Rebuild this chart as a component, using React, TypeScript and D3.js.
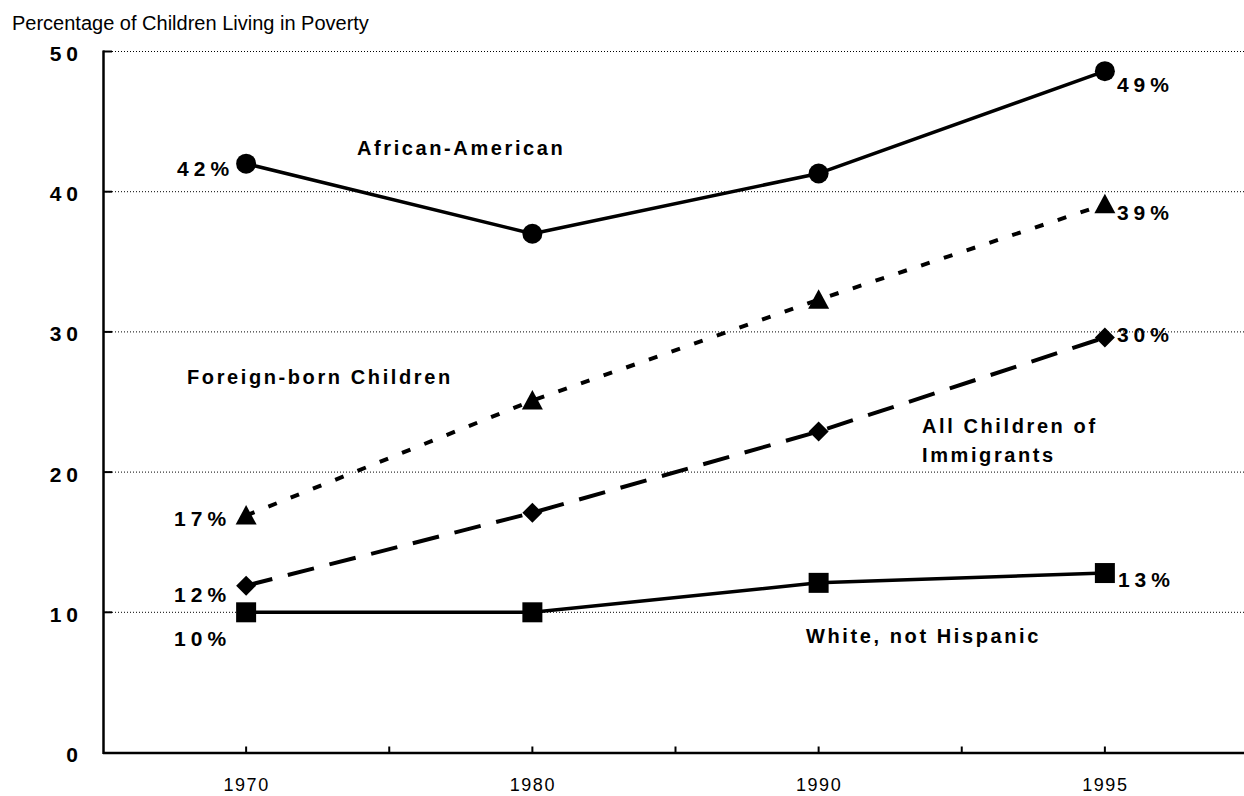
import React from "react";
import * as d3 from "d3";

// Census years on the category axis
const years = ["1970", "1980", "1990", "1995"];

// Percentage of children living in poverty, by group
const africanAmerican = [42, 37, 41.3, 48.6];
const foreignBorn = [16.9, 25.1, 32.3, 39.1];
const allChildrenOfImmigrants = [11.9, 17.1, 22.9, 29.6];
const whiteNotHispanic = [10, 10, 12.1, 12.8];

// Value-axis ticks
const yTicks = [0, 10, 20, 30, 40, 50];

const W = 1244;
const H = 796;
const LEFT = 103;
const RIGHT = 1248;
const TOP = 51.5;
const BOTTOM = 752.5;

type Marker = "circle" | "triangle" | "diamond" | "square";

interface SeriesDef {
  name: string;
  values: number[];
  marker: Marker;
  dash: string | null;
  // placement of the first/last value labels relative to the point
  first: { dx: number; dy: number };
  last: { dx: number; dy: number };
}

const series: SeriesDef[] = [
  { name: "African-American", values: africanAmerican, marker: "circle", dash: null,
    first: { dx: -17, dy: 12 }, last: { dx: 12, dy: 21 } },
  { name: "Foreign-born Children", values: foreignBorn, marker: "triangle", dash: "9,15",
    first: { dx: -20, dy: 10.5 }, last: { dx: 12, dy: 16 } },
  { name: "All Children of Immigrants", values: allChildrenOfImmigrants, marker: "diamond", dash: "27,16",
    first: { dx: -20, dy: 16 }, last: { dx: 12, dy: 4.5 } },
  { name: "White, not Hispanic", values: whiteNotHispanic, marker: "square", dash: null,
    first: { dx: -20, dy: 34 }, last: { dx: 13, dy: 14 } },
];

// Series name annotations inside the plot
const annotations: { lines: string[]; x: number; y: number }[] = [
  { lines: ["African-American"], x: 357, y: 155 },
  { lines: ["Foreign-born Children"], x: 187, y: 384 },
  { lines: ["All Children of", "Immigrants"], x: 922, y: 433 },
  { lines: ["White, not Hispanic"], x: 806, y: 643 },
];

const FONT = "'Liberation Sans', Arial, Helvetica, sans-serif";
const VALUE_FS = 21;
const VALUE_LS = 5;

function markerPath(m: Marker): string {
  switch (m) {
    case "triangle":
      return "M0,-10.5L10.5,9L-10.5,9Z";
    case "diamond":
      return "M0,-10L10,0L0,10L-10,0Z";
    case "square":
      return "M-10,-10H10V10H-10Z";
    default:
      return d3.symbol(d3.symbolCircle, Math.PI * 10 * 10)() || "";
  }
}

export default function App() {
  const x = d3.scaleBand<string>().domain(years).range([LEFT, RIGHT]).padding(0);
  const bw = x.bandwidth();
  const cx = (yr: string) => (x(yr) as number) + bw / 2;
  const y = d3.scaleLinear().domain([0, 50]).range([BOTTOM, TOP]);

  const line = d3
    .line<number>()
    .x((_, i) => cx(years[i]))
    .y((v) => y(v));

  // ticks at band centres and band boundaries along the category axis
  const xTickPositions: number[] = [];
  years.forEach((yr, i) => {
    xTickPositions.push(cx(yr));
    if (i > 0) xTickPositions.push(x(yr) as number);
  });

  return (
    <svg
      width={W}
      height={H}
      style={{ position: "absolute", left: 0, top: 0, background: "#fff" }}
      fontFamily={FONT}
    >
      <rect width={W} height={H} fill="#fff" />

      {/* axis title */}
      <text x={12} y={30} fontSize={20} fill="#000">
        Percentage of Children Living in Poverty
      </text>

      {/* dotted gridlines and inner y ticks */}
      {yTicks.filter((t) => t > 0).map((t) => (
        <g key={`g${t}`}>
          <line x1={LEFT} x2={W} y1={y(t)} y2={y(t)} stroke="#000" strokeWidth={1} strokeDasharray="1,2" />
          <line x1={LEFT} x2={LEFT + 9} y1={y(t)} y2={y(t)} stroke="#000" strokeWidth={2} />
        </g>
      ))}

      {/* y tick labels */}
      {yTicks.map((t) => (
        <text
          key={`yl${t}`}
          x={78 + VALUE_LS}
          y={y(t) + 9.5}
          textAnchor="end"
          fontSize={VALUE_FS}
          fontWeight="bold"
          letterSpacing={VALUE_LS}
        >
          {t}
        </text>
      ))}

      {/* axes */}
      <line x1={LEFT + 0.5} x2={LEFT + 0.5} y1={TOP - 1} y2={BOTTOM + 1.5} stroke="#000" strokeWidth={2.5} />
      <line x1={LEFT} x2={W} y1={BOTTOM + 0.5} y2={BOTTOM + 0.5} stroke="#000" strokeWidth={2.5} />
      {xTickPositions.map((p, i) => (
        <line key={`xt${i}`} x1={p} x2={p} y1={BOTTOM - 6} y2={BOTTOM} stroke="#000" strokeWidth={2} />
      ))}

      {/* x tick labels */}
      {years.map((yr) => (
        <text key={`xl${yr}`} x={cx(yr) + 0.5} y={791} textAnchor="middle" fontSize={18} letterSpacing={1.5}>
          {yr}
        </text>
      ))}

      {/* series lines */}
      {series.map((s) => (
        <path
          key={`l${s.name}`}
          d={line(s.values) || ""}
          fill="none"
          stroke="#000"
          strokeWidth={s.dash ? 4 : 3.5}
          strokeDasharray={s.dash || undefined}
          strokeLinejoin="round"
        />
      ))}

      {/* markers */}
      {series.map((s) =>
        s.values.map((v, i) => (
          <path
            key={`m${s.name}${i}`}
            d={markerPath(s.marker)}
            transform={`translate(${cx(years[i])},${y(v)})`}
            fill="#000"
          />
        ))
      )}

      {/* first / last value labels */}
      {series.map((s) => {
        const n = s.values.length - 1;
        const f = s.values[0];
        const l = s.values[n];
        return (
          <g key={`v${s.name}`} fontSize={VALUE_FS} fontWeight="bold" letterSpacing={VALUE_LS}>
            <text x={cx(years[0]) + s.first.dx + VALUE_LS} y={y(f) + s.first.dy} textAnchor="end">
              {`${Math.round(f)}%`}
            </text>
            <text x={cx(years[n]) + s.last.dx} y={y(l) + s.last.dy} textAnchor="start">
              {`${Math.round(l)}%`}
            </text>
          </g>
        );
      })}

      {/* series names */}
      {annotations.map((a) => (
        <text key={`a${a.x}`} fontSize={20} fontWeight="bold" letterSpacing={2.6}>
          {a.lines.map((ln, i) => (
            <tspan key={i} x={a.x} y={a.y + i * 29}>
              {ln}
            </tspan>
          ))}
        </text>
      ))}
    </svg>
  );
}
